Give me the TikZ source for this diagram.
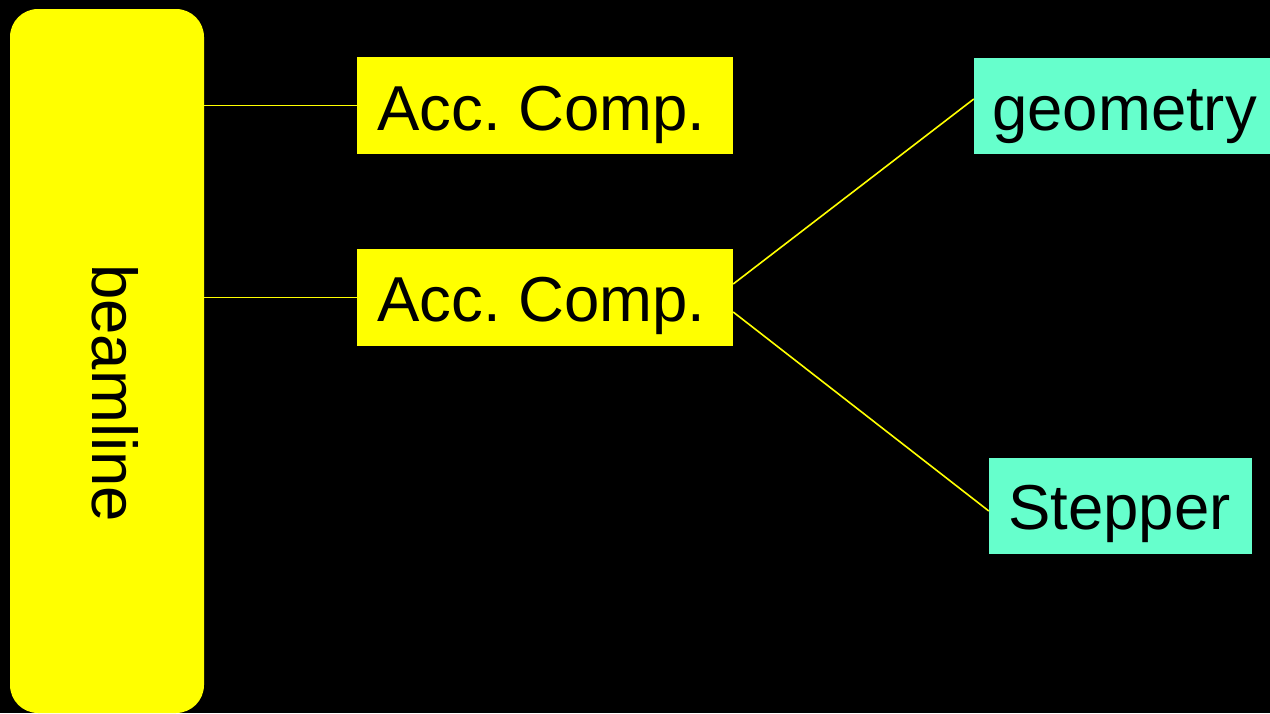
\documentclass[tikz,border=0pt]{standalone}
\usepackage{fontspec}
\setmainfont{Liberation Sans}
\usetikzlibrary{calc}
\frenchspacing
\definecolor{boxyellow}{RGB}{255,255,0}
\definecolor{boxaqua}{RGB}{102,255,204}
\tikzset{
  yellowbox/.style={rectangle, fill=boxyellow, draw=none, inner sep=0pt},
  aquabox/.style={rectangle, fill=boxaqua, draw=none, inner sep=0pt},
  label text/.style={inner sep=0pt, anchor=base west, text=black,
    font=\fontsize{63.5}{76}\selectfont},
  link/.style={draw=boxyellow, line width=1.6pt}
}
\begin{document}
\begin{tikzpicture}[x=1pt, y=-1pt]
  % canvas
  \fill[black] (0,0) rectangle (1270,713);
  \useasboundingbox (0,0) rectangle (1270,713);

  % boxes
  \node[yellowbox, rounded corners=28pt, minimum width=194pt, minimum height=704pt] (beam) at (107,361) {};
  \node[yellowbox, minimum width=376pt, minimum height=97pt] (acca) at (545,105.5) {};
  \node[yellowbox, minimum width=376pt, minimum height=97pt] (accb) at (545,297.5) {};
  \node[aquabox, minimum width=296pt, minimum height=96pt] (geom) at (1122,106) {};
  \node[aquabox, minimum width=263pt, minimum height=96pt] (stepr) at (1120.5,506) {};

  % labels
  \node[label text, rotate=-90] (beamtxt) at (92.3,264) {beamline};
  \node[label text] (accatxt) at (377,130.7) {Acc. Comp.};
  \node[label text] (accbtxt) at (377,321.7) {Acc. Comp.};
  \node[label text] (geomtxt) at (992,130) {geometry};
  \node[label text] (steprtxt) at (1008,529.3) {Stepper};

  % connectors
  \draw[link] (beam.east |- acca.west) -- (acca.west);
  \draw[link] (beam.east |- accb.west) -- (accb.west);
  \draw[link] ($(accb.east)+(0,-13.5)$) -- ($(geom.west)+(0,-7)$);
  \draw[link] ($(accb.east)+(0,14.5)$) -- ($(stepr.west)+(0,5)$);
\end{tikzpicture}
\end{document}
